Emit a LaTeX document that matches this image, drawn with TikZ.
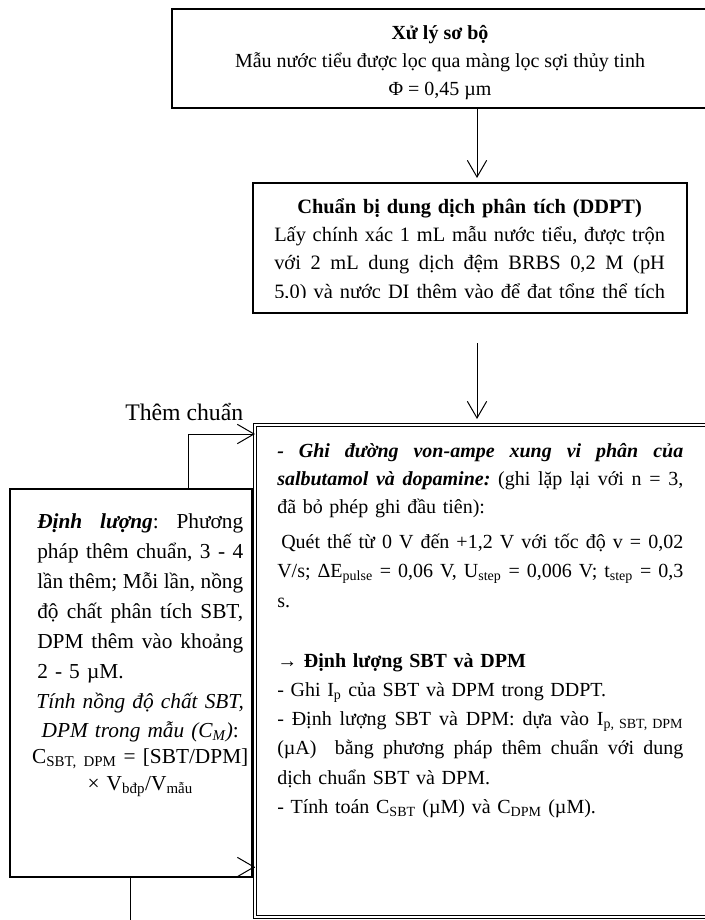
\documentclass[tikz,border=0pt]{standalone}
\usepackage{fontspec}
\setmainfont{Liberation Serif}
\usetikzlibrary{arrows.meta}

\newcommand{\jline}[1]{\makebox[\hsize][s]{\frenchspacing\spaceskip=.25em plus .5em minus .08em #1}}
\newcommand{\cenline}[1]{\makebox[\hsize]{#1}}

\begin{document}
\begin{tikzpicture}[x=0.75pt,y=0.75pt,yscale=-1,xscale=1,
  box/.style={draw, line width=1.1pt, fill=white, inner sep=0pt, outer sep=0pt, anchor=north west},
  txt/.style={inner sep=0pt, anchor=north west, align=left, font=\fontsize{15}{21}\selectfont},
  arr/.style={-{Straight Barb[length=12.5pt,width=14.5pt]}, line width=0.75pt}]

\useasboundingbox (0,0) rectangle (704,920);

% boxes
\node [box, minimum width=411pt, minimum height=74.25pt] (pre) at (172,9) {};

\node [box, minimum width=325.5pt, minimum height=97.5pt] (ddpt) at (253,183) {};

\node [box, fill=none, double, double distance=2.2pt, line width=0.6pt, minimum width=347pt, minimum height=369pt] (meas) at (255,425) {};

\coordinate (src) at (130,925);
\coordinate (top2) at (477,343);

% back connector, partly hidden
\draw [line width=0.75pt] (src) |- (meas.west |- 0,867) ;

\node [box, minimum width=181.5pt, minimum height=291pt] (quant) at (10,489) {};

% connectors
\draw [arr, shorten >=3.75pt] (pre.south -| 477,0) -- (ddpt.north -| 477,0) ;

\draw [arr, shorten >=4.5pt] (top2) -- (meas.north -| 477,0) ;

\draw [arr] (quant.north -| 188,0) |- (meas.west |- 0,434) ;

\draw [arr] (quant.east |- 0,867) -- (meas.west |- 0,867) ;

% texts
\node [txt, anchor=north, align=center] (preText) at (440,19.4) {\strut\textbf{Xử lý sơ bộ}\\Mẫu nước tiểu được lọc qua màng lọc sợi thủy tinh\\Φ = 0,45 µm};

\begin{scope}
\clip (253,183) rectangle (687,297.5);
\node [txt, text width=293pt, font=\fontsize{15.3}{21.2}\selectfont] (ddptText) at (274,193.2) {\strut\cenline{\textbf{Chuẩn bị dung dịch phân tích (DDPT)}}\\
\jline{Lấy chính xác 1 mL mẫu nước tiểu, được trộn}\\
\jline{với 2 mL dung dịch đệm BRBS 0,2 M (pH}\\
\jline{5,0) và nước DI thêm vào để đạt tổng thể tích}};
\end{scope}

\node [txt, text width=304.5pt] (measText) at (277,437.4) {\strut\jline{\bfseries\itshape - Ghi đường von-ampe xung vi phân của}\\
\jline{\textbf{\textit{salbutamol và dopamine:}} (ghi lặp lại với n = 3,}\\
đã bỏ phép ghi đầu tiên):\\[5.25pt]
\jline{\hspace*{3pt}Quét thế từ 0 V đến +1,2 V với tốc độ v = 0,02}\\[1.1pt]
\jline{V/s; ΔE\textsubscript{pulse} = 0,06 V, U\textsubscript{step} = 0,006 V; t\textsubscript{step} = 0,3}\\[1.1pt]
s.\\[24pt]
\textbf{→ Định lượng SBT và DPM}\\[0.9pt]
- Ghi I\textsubscript{p} của SBT và DPM trong DDPT.\\[0.9pt]
\jline{- Định lượng SBT và DPM: dựa vào I\textsubscript{p, SBT, DPM}}\\[0.9pt]
\jline{(µA)\ \ bằng phương pháp thêm chuẩn với dung}\\[0.9pt]
dịch chuẩn SBT và DPM.\\[0.9pt]
- Tính toán C\textsubscript{SBT} (µM) và C\textsubscript{DPM} (µM).};

\node [txt, text width=154.5pt, font=\fontsize{16}{22.5}\selectfont] (quantText) at (37,507) {\strut\jline{\textbf{\textit{Định lượng}}: Phương}\\
\jline{pháp thêm chuẩn, 3 - 4}\\
\jline{lần thêm; Mỗi lần, nồng}\\
\jline{độ chất phân tích SBT,}\\
\jline{DPM thêm vào khoảng}\\
2 - 5 µM.\\
\cenline{\textit{Tính nồng độ chất SBT,}}\\[-0.75pt]
\cenline{\textit{DPM trong mẫu (C\textsubscript{M})}:}\\[-3pt]
\cenline{C\textsubscript{SBT, DPM} = [SBT/DPM]}\\[-2.25pt]
\cenline{× V\textsubscript{bđp}/V\textsubscript{mẫu}}};

\node [inner sep=0pt, anchor=base west, font=\fontsize{17.8}{22}\selectfont] (addstd) at (125,420) {Thêm chuẩn};

\end{tikzpicture}
\end{document}
